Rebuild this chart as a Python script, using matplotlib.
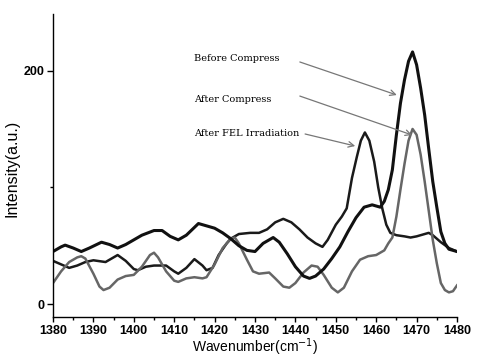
import matplotlib
matplotlib.use("Agg")
from matplotlib import pyplot as plt
from matplotlib.ticker import MultipleLocator

# Before Compress (thick black)
wn_before = [1380, 1382, 1383, 1385, 1387, 1389, 1392, 1394, 1396, 1398, 1400, 1402, 1405, 1407,
             1409, 1411, 1413, 1416, 1418, 1420, 1422, 1424, 1426, 1428, 1430, 1432, 1434.5, 1436,
             1438, 1440, 1442, 1443.5, 1445, 1447, 1449, 1451, 1453, 1455, 1457, 1459, 1461, 1462,
             1463, 1464, 1465, 1466, 1467, 1468, 1469, 1470, 1471, 1472, 1473, 1474, 1475, 1476,
             1477, 1478, 1480]
int_before = [45, 49, 50.5, 48, 45, 48, 53, 51, 48, 51, 55, 59, 63, 63,
              58, 55, 59, 69, 67, 65, 61, 56, 50, 46, 45, 52, 57, 53,
              43, 32, 24, 22, 24, 30, 39, 49, 62, 74, 83, 85, 83, 88,
              98, 115, 145, 172, 192, 208, 216, 205, 185, 162, 133, 105, 83, 62,
              52, 47, 45]

# After Compress (gray)
wn_after = [1380, 1382, 1384, 1386, 1387, 1388, 1390, 1391.5, 1392.5, 1394, 1396, 1398, 1400, 1402,
            1404, 1405, 1406, 1408, 1410, 1411, 1413, 1415, 1417, 1418, 1420, 1422, 1424, 1425,
            1426, 1428, 1429.5, 1431, 1433.5, 1435, 1437, 1438.5, 1440, 1442, 1444, 1445.5, 1447,
            1449, 1450.5, 1452, 1454, 1456, 1458, 1460, 1462, 1463, 1464, 1465, 1466, 1467, 1468,
            1469, 1470, 1471, 1472, 1473, 1474, 1475, 1476, 1477, 1478, 1479, 1480]
int_after = [18, 28, 36, 40, 41, 39, 26, 15, 12, 14, 21, 24, 25, 32,
             42, 44, 40, 28, 20, 19, 22, 23, 22, 23, 34, 48, 56, 57,
             52, 38, 28, 26, 27, 22, 15, 14, 18, 27, 33, 32, 25,
             14, 10, 14, 28, 38, 41, 42, 46, 52, 57, 75, 98, 120, 140,
             150, 145, 128, 105, 80, 55, 35, 18, 12, 10, 11, 16]

# After FEL Irradiation (black)
wn_fel = [1380, 1382, 1384, 1386, 1388, 1390, 1393, 1396, 1398, 1400, 1401, 1403, 1405, 1408,
          1410, 1411, 1413, 1415, 1417, 1418, 1419.5, 1421, 1423, 1424, 1426, 1428.8, 1431, 1433,
          1435, 1437, 1439, 1441, 1443, 1445, 1446.7, 1448, 1450, 1451.5, 1452.7, 1454, 1455.2,
          1456.2, 1457.2, 1458.3, 1459.5, 1460.5, 1461.5, 1462.5, 1463.5, 1465, 1467, 1468.5,
          1470, 1472, 1473, 1474, 1476, 1478, 1480]
int_fel = [37, 34, 31, 33, 36, 37.5, 36, 42, 37, 30, 29, 32, 33, 33,
           28, 26, 31, 38.5, 33, 29, 31, 42, 52, 56, 60, 61, 61, 64,
           70, 73, 70, 64, 57, 52, 49, 55, 68, 75, 82, 108, 126,
           140, 147, 140, 122, 100, 82, 68, 61, 59, 58, 57,
           58, 60, 61, 59, 53, 48, 45]

labels = ["Before Compress", "After Compress", "After FEL Irradiation"]

plt.rcParams['font.family'] = ['Liberation Sans', 'DejaVu Sans']

fig = plt.figure(figsize=(4.94, 3.6), dpi=100)
ax = fig.add_axes([0.1073, 0.1194, 0.8178, 0.8417])

ax.plot(wn_fel, int_fel, color='#1a1a1a', lw=1.8, solid_joinstyle='round')
ax.plot(wn_after, int_after, color='#666666', lw=1.8, solid_joinstyle='round')
ax.plot(wn_before, int_before, color='#111111', lw=2.2, solid_joinstyle='round')

ax.set_xlim(1380, 1480)
ax.set_ylim(-11.1, 248.5)

ax.spines['top'].set_visible(False)
ax.spines['right'].set_visible(False)
ax.spines['left'].set_linewidth(1.0)
ax.spines['bottom'].set_linewidth(1.0)

ax.xaxis.set_major_locator(MultipleLocator(10))
ax.xaxis.set_minor_locator(MultipleLocator(5))
ax.yaxis.set_major_locator(MultipleLocator(200))
ax.yaxis.set_minor_locator(MultipleLocator(100))
ax.tick_params(axis='x', which='major', direction='out', length=3.5, width=1, labelsize=9, pad=2)
ax.tick_params(axis='x', which='minor', direction='out', length=2, width=1)
ax.tick_params(axis='y', which='major', direction='out', length=4, width=1, labelsize=9, pad=2)
ax.tick_params(axis='y', which='minor', direction='out', length=2.5, width=1)
for t in ax.get_xticklabels() + ax.get_yticklabels():
    t.set_fontweight('bold')

ax.set_xlabel("Wavenumber(cm$^{-1}$)", fontsize=10, labelpad=0)
ax.set_ylabel("Intensity(a.u.)", fontsize=11.5)
ax.yaxis.set_label_coords(-0.082, 0.49)

# annotations with arrows
text_y = [210, 175, 146.5]
arrow_from = [(1441.1, 207.4), (1441.1, 178.2), (1442.4, 145.7)]
arrow_to = [(1465.1, 179.1), (1468.9, 144.8), (1454.8, 135.4)]
for lab, ty, a0, a1 in zip(labels, text_y, arrow_from, arrow_to):
    ax.text(1414.9, ty, lab, fontsize=7, family='DejaVu Serif', va='center', ha='left')
    ax.annotate("", xy=a1, xytext=a0,
                arrowprops=dict(arrowstyle='->', color='#777777', lw=0.9,
                                mutation_scale=10, shrinkA=0, shrinkB=0))

fig.savefig("out.png", dpi=100)
